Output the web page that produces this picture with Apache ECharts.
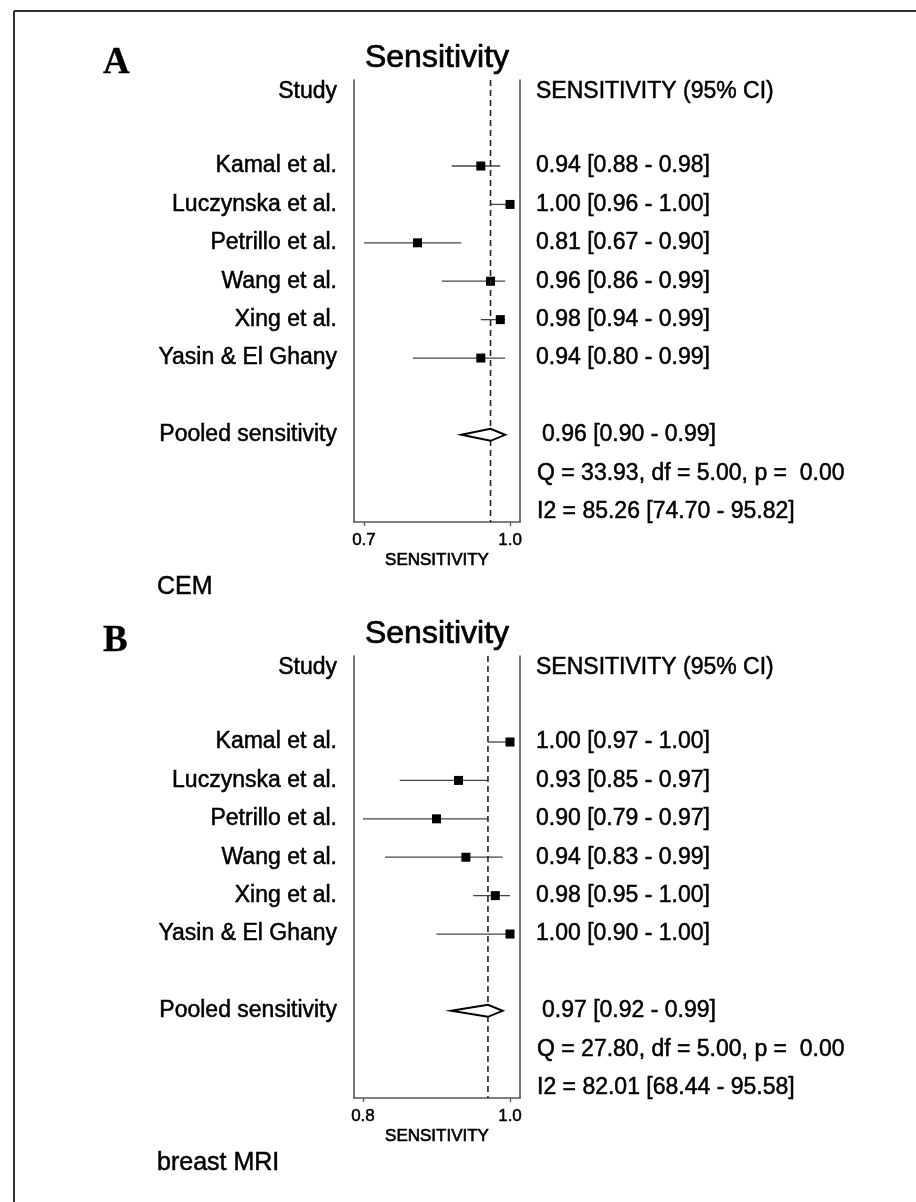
<!DOCTYPE html>
<html>
<head>
<meta charset="utf-8">
<script src="https://cdn.jsdelivr.net/npm/echarts@6/dist/echarts.min.js"></script>
<style>
html,body{margin:0;padding:0;background:#fff;}
#chart{width:916px;height:1202px;}
</style>
</head>
<body>
<div id="chart"></div>
<script>
// ---------- data ----------
const studies = ['Kamal et al.', 'Luczynska et al.', 'Petrillo et al.', 'Wang et al.', 'Xing et al.', 'Yasin & El Ghany'];

const cemSens = [0.94, 1.00, 0.81, 0.96, 0.98, 0.94];
const cemLow  = [0.88, 0.96, 0.67, 0.86, 0.94, 0.80];
const cemHigh = [0.98, 1.00, 0.90, 0.99, 0.99, 0.99];
const cemPooled = [0.96, 0.90, 0.99];           // estimate, low, high
const cemQ  = 'Q = 33.93, df = 5.00, p =  0.00';
const cemI2 = 'I2 = 85.26 [74.70 - 95.82]';
const cemTicks = [0.7, 1.0];

const mriSens = [1.00, 0.93, 0.90, 0.94, 0.98, 1.00];
const mriLow  = [0.97, 0.85, 0.79, 0.83, 0.95, 0.90];
const mriHigh = [1.00, 0.97, 0.97, 0.99, 1.00, 1.00];
const mriPooled = [0.97, 0.92, 0.99];
const mriQ  = 'Q = 27.80, df = 5.00, p =  0.00';
const mriI2 = 'I2 = 82.01 [68.44 - 95.58]';
const mriTicks = [0.8, 1.0];

const studyRows = [0, 1, 2, 3, 4, 5];
const pooledRow = 7, qRow = 8, i2Row = 9, headerRow = -1.93;

// ---------- helpers ----------
const FONT = "'Liberation Sans', Arial, Helvetica, sans-serif";
const fmt = v => v.toFixed(2);
const ciText = (e, l, h) => fmt(e) + ' [' + fmt(l) + ' - ' + fmt(h) + ']';

function txt(x, y, s, size, align, weightStroke, fontOverride) {
  return {
    type: 'text', x: x, y: y,
    style: {
      text: s, fill: '#000', font: fontOverride || (size + 'px ' + FONT),
      stroke: '#000', lineWidth: weightStroke == null ? 0.5 : weightStroke,
      align: align, textAlign: align, verticalAlign: 'middle', textVerticalAlign: 'middle'
    }
  };
}

function panelSeries(g, sens, low, high, pooled, q, i2, ticks) {
  const xi = g, yi = g * 2;
  const floor = ticks[0];
  const list = [];
  // study CIs and squares
  list.push({
    type: 'custom', xAxisIndex: xi, yAxisIndex: yi, silent: true, clip: false,
    data: sens.map((v, i) => [v, low[i], high[i], studyRows[i]]),
    renderItem: function (params, api) {
      const r = api.value(3);
      const pE = api.coord([api.value(0), r]);
      const pL = api.coord([Math.max(api.value(1), floor), r]);
      const pH = api.coord([api.value(2), r]);
      const s = 9;
      return {
        type: 'group', children: [
          { type: 'line', shape: { x1: pL[0], y1: pL[1], x2: pH[0], y2: pH[1] },
            style: { stroke: '#444', lineWidth: 1.3 } },
          { type: 'rect', shape: { x: pE[0] - s / 2, y: pE[1] - s / 2, width: s, height: s },
            style: { fill: '#000' } }
        ]
      };
    }
  });
  // pooled diamond + dashed reference line
  list.push({
    type: 'custom', xAxisIndex: xi, yAxisIndex: yi, silent: true, clip: false,
    data: [[pooled[0], pooled[1], pooled[2], pooledRow]],
    renderItem: function (params, api) {
      const cs = params.coordSys;
      const r = api.value(3);
      const pE = api.coord([api.value(0), r]);
      const pL = api.coord([api.value(1), r]);
      const pH = api.coord([api.value(2), r]);
      const h = 6;
      return {
        type: 'group', children: [
          { type: 'line', shape: { x1: pE[0], y1: cs.y, x2: pE[0], y2: cs.y + cs.height },
            style: { stroke: '#222', lineWidth: 1.6, lineDash: [6, 4] } },
          { type: 'polygon', shape: { points: [[pL[0], pL[1]], [pE[0], pE[1] - h], [pH[0], pH[1]], [pE[0], pE[1] + h]] },
            style: { fill: '#fff', stroke: '#000', lineWidth: 2 } }
        ]
      };
    }
  });
  // texts
  const leftTexts = ['Study'].concat(studies, ['Pooled sensitivity']);
  const leftRows = [headerRow].concat(studyRows, [pooledRow]);
  const rightTexts = ['SENSITIVITY (95% CI)'].concat(
    sens.map((v, i) => ciText(v, low[i], high[i])),
    [ciText(pooled[0], pooled[1], pooled[2]), q, i2]);
  const rightRows = [headerRow].concat(studyRows, [pooledRow, qRow, i2Row]);
  const rightDx = [16, 16, 16, 16, 16, 16, 16, 22, 17, 17];
  list.push({
    type: 'custom', xAxisIndex: xi, yAxisIndex: yi, silent: true, clip: false,
    data: leftRows.map(r => [floor, r]),
    renderItem: function (params, api) {
      const cs = params.coordSys;
      const p = api.coord([api.value(0), api.value(1)]);
      return txt(cs.x - 17, p[1], leftTexts[params.dataIndex], 23, 'right');
    }
  });
  list.push({
    type: 'custom', xAxisIndex: xi, yAxisIndex: yi, silent: true, clip: false,
    data: rightRows.map(r => [floor, r]),
    renderItem: function (params, api) {
      const cs = params.coordSys;
      const p = api.coord([api.value(0), api.value(1)]);
      return txt(cs.x + cs.width + rightDx[params.dataIndex], p[1], rightTexts[params.dataIndex], 23, 'left');
    }
  });
  return list;
}

const grids = [
  { left: 354, top: 80, width: 166, height: 442 },
  { left: 354, top: 656, width: 166, height: 442 }
];
const axisColor = '#555';

function xAxisFor(g, min, max, ticks) {
  return {
    type: 'value', gridIndex: g, min: min, max: max, position: 'bottom',
    axisLine: { show: true, onZero: false, lineStyle: { color: axisColor, width: 1.6 } },
    axisTick: { show: true, customValues: ticks, length: 4, inside: false, lineStyle: { color: axisColor, width: 1.3 } },
    axisLabel: { show: true, customValues: ticks, formatter: v => Number(v).toFixed(1),
      fontFamily: FONT, fontSize: 17, color: '#000', margin: 10,
      textBorderColor: '#000', textBorderWidth: 0.5 },
    splitLine: { show: false },
    name: 'SENSITIVITY', nameLocation: 'middle', nameGap: 30,
    nameTextStyle: { fontFamily: FONT, fontSize: 17, color: '#000', verticalAlign: 'top',
      textBorderColor: '#000', textBorderWidth: 0.6 }
  };
}
function yAxisFor(g, pos) {
  return {
    type: 'value', gridIndex: g, inverse: true, min: -2.24, max: 9.27, position: pos,
    axisLine: { show: true, onZero: false, lineStyle: { color: axisColor, width: 1.6 } },
    axisTick: { show: false }, axisLabel: { show: false }, splitLine: { show: false }
  };
}

const serifBold = "bold 37px 'Liberation Serif', 'Times New Roman', serif";

const option = {
  animation: false,
  backgroundColor: '#fff',
  grid: grids,
  xAxis: [xAxisFor(0, 0.6795, 1.0205, cemTicks), xAxisFor(1, 0.7878, 1.0136, mriTicks)],
  yAxis: [yAxisFor(0, 'left'), yAxisFor(0, 'right'), yAxisFor(1, 'left'), yAxisFor(1, 'right')],
  series: [].concat(
    panelSeries(0, cemSens, cemLow, cemHigh, cemPooled, cemQ, cemI2, cemTicks),
    panelSeries(1, mriSens, mriLow, mriHigh, mriPooled, mriQ, mriI2, mriTicks)
  ),
  graphic: [
    { type: 'line', shape: { x1: 14, y1: 11, x2: 916, y2: 11 }, style: { stroke: '#333', lineWidth: 2 } },
    { type: 'line', shape: { x1: 14, y1: 11, x2: 14, y2: 1202 }, style: { stroke: '#333', lineWidth: 2 } },
    txt(103, 63, 'A', 37, 'left', 0.3, serifBold),
    txt(103, 641, 'B', 37, 'left', 0.3, serifBold),
    txt(437, 58, 'Sensitivity', 32, 'center', 0.7),
    txt(437, 634, 'Sensitivity', 32, 'center', 0.7),
    txt(157, 587, 'CEM', 25, 'left'),
    txt(157, 1163, 'breast MRI', 25, 'left')
  ]
};

const chart = echarts.init(document.getElementById('chart'), null, { renderer: 'canvas' });
chart.setOption(option);
</script>
</body>
</html>
